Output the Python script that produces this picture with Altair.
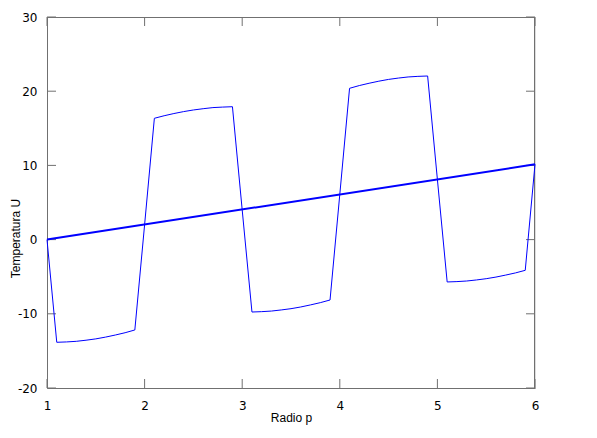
import altair as alt
import pandas as pd

# Oscillating series (sampled every 0.1 in Radio p)
x_wave = [1.0,
          1.1, 1.2, 1.3, 1.4, 1.5, 1.6, 1.7, 1.8, 1.9,
          2.0,
          2.1, 2.2, 2.3, 2.4, 2.5, 2.6, 2.7, 2.8, 2.9,
          3.0,
          3.1, 3.2, 3.3, 3.4, 3.5, 3.6, 3.7, 3.8, 3.9,
          4.0,
          4.1, 4.2, 4.3, 4.4, 4.5, 4.6, 4.7, 4.8, 4.9,
          5.0,
          5.1, 5.2, 5.3, 5.4, 5.5, 5.6, 5.7, 5.8, 5.9,
          6.0]
u_wave = [0.0,
          -13.84, -13.79, -13.71, -13.56, -13.38, -13.14, -12.86, -12.55, -12.18,
          2.0,
          16.35, 16.69, 16.99, 17.25, 17.47, 17.64, 17.79, 17.86, 17.91,
          4.0,
          -9.76, -9.71, -9.63, -9.48, -9.31, -9.08, -8.80, -8.50, -8.14,
          6.1,
          20.39, 20.76, 21.07, 21.35, 21.59, 21.77, 21.92, 22.00, 22.05,
          8.1,
          -5.71, -5.66, -5.58, -5.44, -5.27, -5.05, -4.78, -4.49, -4.14,
          10.15]

# Straight series
x_lin = [1.0, 6.0]
u_lin = [0.0, 10.15]

# Tick values
x_ticks = [1, 2, 3, 4, 5, 6]
y_ticks = [-20, -10, 0, 10, 20, 30]

W, H = 488, 371
TICK = 9
GRAY = "#707070"
BLUE = "#0000ff"

wave_df = pd.DataFrame({"x": x_wave, "u": u_wave})
lin_df = pd.DataFrame({"x": x_lin, "u": u_lin})
xt_df = pd.DataFrame({"x": x_ticks})
yt_df = pd.DataFrame({"u": y_ticks})
one_df = pd.DataFrame({"k": [0]})

xscale = alt.Scale(domain=[1, 6], nice=False, zero=False)
yscale = alt.Scale(domain=[-20, 30], nice=False, zero=False)

xaxis = alt.Axis(values=x_ticks, tickSize=0, domain=True, domainColor=GRAY, grid=False,
                 labelExpr="'' + datum.value", labelFlush=False,
                 labelFont="DejaVu Sans", labelFontSize=12, labelColor="black",
                 labelBaseline="middle", labelPadding=17,
                 title="Radio p", titleFont="Liberation Sans", titleFontSize=12,
                 titleFontWeight="normal", titleColor="black",
                 titleY=29, titleBaseline="middle")
yaxis = alt.Axis(values=y_ticks, tickSize=0, domain=True, domainColor=GRAY, grid=False,
                 labelExpr="'' + datum.value", labelFlush=False,
                 labelFont="DejaVu Sans", labelFontSize=12, labelColor="black",
                 labelPadding=10,
                 title="Temperatura U", titleFont="Liberation Sans", titleFontSize=12,
                 titleFontWeight="normal", titleColor="black",
                 titleX=-32, titleY=221, titleAngle=-90, titleBaseline="middle")

xt_bottom = alt.Chart(xt_df).mark_rule(color=GRAY, strokeWidth=1).encode(
    x=alt.X("x:Q", scale=xscale, axis=xaxis), y=alt.value(H), y2=alt.value(H - TICK))
xt_top = alt.Chart(xt_df).mark_rule(color=GRAY, strokeWidth=1).encode(
    x=alt.X("x:Q"), y=alt.value(0), y2=alt.value(TICK))
yt_left = alt.Chart(yt_df).mark_rule(color=GRAY, strokeWidth=1).encode(
    y=alt.Y("u:Q", scale=yscale, axis=yaxis), x=alt.value(0), x2=alt.value(TICK))
yt_right = alt.Chart(yt_df).mark_rule(color=GRAY, strokeWidth=1).encode(
    y=alt.Y("u:Q"), x=alt.value(W), x2=alt.value(W - TICK))

# top and right border lines (frame)
border_top = alt.Chart(one_df).mark_rule(color=GRAY, strokeWidth=1).encode(
    x=alt.value(0), x2=alt.value(W), y=alt.value(0.5))
border_right = alt.Chart(one_df).mark_rule(color=GRAY, strokeWidth=1).encode(
    x=alt.value(W - 0.5), y=alt.value(0), y2=alt.value(H))

wave = alt.Chart(wave_df).mark_line(color=BLUE, strokeWidth=1).encode(
    x=alt.X("x:Q"),
    y=alt.Y("u:Q"),
    order="x:Q",
)
lin = alt.Chart(lin_df).mark_line(color=BLUE, strokeWidth=2).encode(
    x=alt.X("x:Q"),
    y=alt.Y("u:Q"),
)

chart = alt.layer(xt_bottom, yt_left, xt_top, yt_right,
                  border_top, border_right, wave, lin).properties(
    width=W, height=H,
    autosize=alt.AutoSizeParams(type="none"),
    padding={"left": 39, "top": 9, "right": 54, "bottom": 42},
).configure_view(stroke=None).configure(background="white")

chart.save("out.html", embed_options={"renderer": "svg", "actions": False})
